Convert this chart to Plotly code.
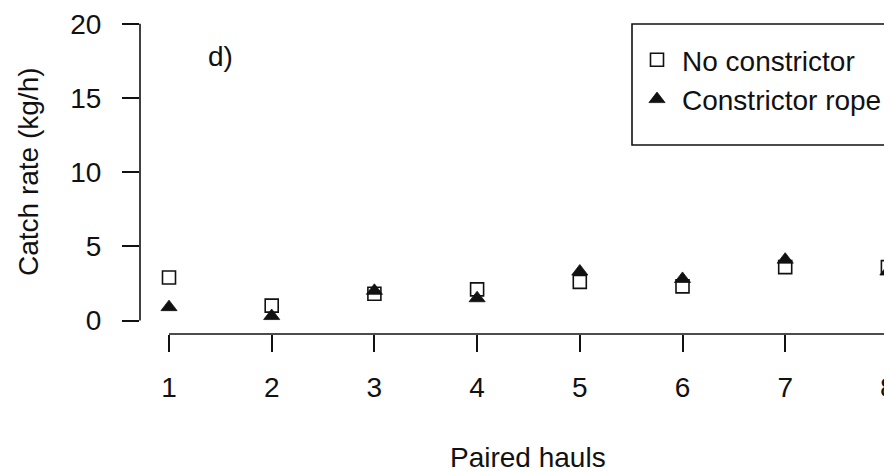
import plotly.graph_objects as go

hauls = [1, 2, 3, 4, 5, 6, 7, 8]
no_constrictor = [2.9, 1.0, 1.8, 2.1, 2.6, 2.3, 3.6, 3.6]
constrictor_rope = [0.9, 0.3, 2.0, 1.5, 3.3, 2.8, 4.1, 3.3]
x_ticks = [1, 2, 3, 4, 5, 6, 7, 8]
y_ticks = [0, 5, 10, 15, 20]
panel_label = "d)"
x_title = "Paired hauls"
y_title = "Catch rate (kg/h)"
series_names = ["No constrictor", "Constrictor rope"]

FONT = "Liberation Sans, Arial, Helvetica, sans-serif"
INK = "#111111"
W, H = 892, 473
OFF = 8  # page body margin compensation
ML, MR, MT, MB = 140 - OFF, 0, 12 - OFF, H - (334 - OFF)
PW, PH = W - ML - MR, H - MT - MB

def px_to_paper_x(px):
    return (px - OFF - ML) / PW

def px_to_paper_y(py):
    return (H - MB - (py - OFF)) / PH

fig = go.Figure()
fig.add_trace(go.Scatter(
    x=hauls, y=no_constrictor, mode="markers", name=series_names[0],
    marker=dict(symbol="square-open", size=13, color=INK, line=dict(width=1.6, color=INK)),
    cliponaxis=False,
))
fig.add_trace(go.Scatter(
    x=hauls, y=constrictor_rope, mode="markers", name=series_names[1],
    marker=dict(symbol="triangle-up", size=14, color=INK, line=dict(width=0.8, color=INK)),
    cliponaxis=False,
))

# axis lines spanning first to last tick (R style)
fig.add_shape(type="line", xref="x", yref="paper", x0=x_ticks[0], x1=x_ticks[-1], y0=0, y1=0,
              line=dict(color=INK, width=1.6))
fig.add_shape(type="line", xref="paper", yref="y", x0=0, x1=0, y0=y_ticks[0], y1=y_ticks[-1],
              line=dict(color=INK, width=1.6))
# legend box
fig.add_shape(type="rect", xref="paper", yref="paper",
              x0=px_to_paper_x(632), x1=px_to_paper_x(920),
              y0=px_to_paper_y(145), y1=px_to_paper_y(24),
              line=dict(color=INK, width=1.6), fillcolor="rgba(0,0,0,0)")

fig.add_annotation(x=1.5, y=17.8, xref="x", yref="y", text=panel_label, showarrow=False,
                   font=dict(family=FONT, size=28, color=INK))
fig.add_annotation(x=px_to_paper_x(528), y=0, xref="paper", yref="paper", text=x_title,
                   showarrow=False, yanchor="middle", yshift=-(457 - 334),
                   font=dict(family=FONT, size=28, color=INK))
fig.add_annotation(x=0, y=px_to_paper_y(172), xref="paper", yref="paper", text=y_title,
                   showarrow=False, textangle=-90, xanchor="center", yanchor="middle",
                   xshift=-(140 - 28), font=dict(family=FONT, size=28, color=INK))

# x range from pixel layout: tick 1 at 169 px, 102.7 px per haul
x_lo = 1 - (140 - 169) / -102.7
x_hi = 1 + (W + OFF - 169) / 102.7

fig.update_layout(
    width=W, height=H,
    margin=dict(l=ML, r=MR, t=MT, b=MB, autoexpand=False),
    paper_bgcolor="white", plot_bgcolor="white",
    font=dict(family=FONT, size=28, color=INK),
    showlegend=True,
    legend=dict(x=px_to_paper_x(632), y=px_to_paper_y(35), xanchor="left", yanchor="top",
                bgcolor="rgba(0,0,0,0)", borderwidth=0, itemwidth=40,
                font=dict(family=FONT, size=28, color=INK), tracegroupgap=0),
    xaxis=dict(range=[x_lo, x_hi], tickvals=x_ticks, ticktext=[str(t) for t in x_ticks],
               ticks="outside", ticklen=17, tickwidth=1.6, tickcolor=INK,
               showgrid=False, zeroline=False, showline=False, ticklabelstandoff=11,
               tickfont=dict(family=FONT, size=28, color=INK)),
    yaxis=dict(range=[-0.91, 20.79], tickvals=y_ticks, ticktext=[str(t) for t in y_ticks],
               ticks="outside", ticklen=17, tickwidth=1.6, tickcolor=INK,
               showgrid=False, zeroline=False, showline=False, ticklabelstandoff=15,
               tickfont=dict(family=FONT, size=28, color=INK)),
)

fig.write_html("out.html")
